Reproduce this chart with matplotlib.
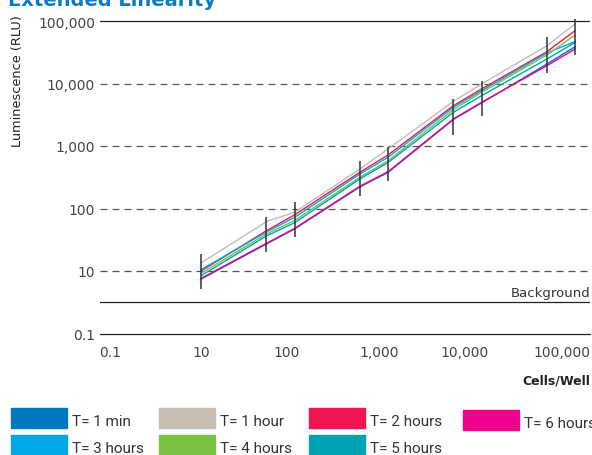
import matplotlib
matplotlib.use("Agg")
import matplotlib.pyplot as plt
from matplotlib.patches import Rectangle
import numpy as np

# ---------------- data ----------------
cells = [10, 50, 100, 500, 1000, 5000, 10000, 50000, 100000]

series_names = ["T= 1 min", "T= 1 hour", "T= 2 hours", "T= 6 hours",
                "T= 3 hours", "T= 4 hours", "T= 5 hours"]
series_colors = ["#0077c0", "#c4bbb3", "#ee1651", "#ec008c",
                 "#00a9e6", "#7ac143", "#00a3b4"]

t_1min = [7.4, 27, 47, 221, 377, 2655, 4875, 20510, 38800]
t_1hour = [13.4, 61.5, 87, 428, 895, 5190, 9820, 40270, 89500]
t_2hours = [10, 44, 79, 380, 718, 4415, 8170, 32270, 70000]
t_6hours = [7.6, 27.7, 48, 227, 388, 2704, 5000, 19270, 35650]
t_3hours = [10.5, 42, 72, 356, 659, 4160, 7670, 30760, 47000]
t_4hours = [9.2, 39, 64, 316, 582, 3810, 7230, 28580, 59700]
t_5hours = [8.4, 36.3, 59, 297, 544, 3460, 6380, 24660, 45300]
series_values = [t_1min, t_1hour, t_2hours, t_6hours, t_3hours, t_4hours, t_5hours]

range_low = [5.2, 20.4, 35, 158, 278, 1517, 2985, 14720, 28580]
range_high = [18.7, 74, 127, 575, 975, 5650, 10840, 54830, 107700]

y_ticks = [1, 10, 100, 1000, 10000, 100000]
y_tick_labels = ["0.1", "10", "100", "1,000", "10,000", "100,000"]
x_tick_labels = ["0.1", "10", "100", "1,000", "10,000", "100,000"]
background_level = 10 ** 0.5

# ---------------- figure ----------------
W, H = 592, 456
fig = plt.figure(figsize=(W / 100, H / 100), dpi=100)
ax = fig.add_axes([100 / W, 121.5 / H, 490 / W, 325 / H])
ax.set_xscale("log")
ax.set_yscale("log")
ax.set_xlim(10 ** -0.08, 10 ** 5.16)
ax.set_ylim(1, 10 ** 5.2)
for s in ax.spines.values():
    s.set_visible(False)

# horizontal reference lines
for yv in y_ticks[1:-1]:
    ax.axhline(yv, color="#555555", lw=0.9, ls=(0, (5.6, 4)), zorder=1)
ax.axhline(y_ticks[-1], color="#222222", lw=0.9, zorder=1)
ax.axhline(y_ticks[0], color="#222222", lw=0.9, zorder=1, clip_on=False)
ax.axhline(background_level, color="#222222", lw=0.9, zorder=1)

# series lines
for name, col, vals in zip(series_names, series_colors, series_values):
    ax.plot(cells, vals, color=col, lw=1.0, zorder=3)

# range bars
ax.vlines(cells, range_low, range_high, color="#333333", lw=1.1, zorder=4)

# ticks
ax.set_yticks(y_ticks)
ax.set_yticklabels(y_tick_labels)
xt_pos = [10 ** p for p in [0.027, 1.0, 1.92, 2.91, 3.82, 4.86]]
ax.set_xticks(xt_pos)
ax.set_xticklabels(x_tick_labels)
ax.minorticks_off()
ax.tick_params(axis="both", length=0, labelsize=10, labelcolor="#444444")
ax.tick_params(axis="y", pad=3.6)
ax.tick_params(axis="x", pad=8)

ax.text(1.0, background_level * 1.12, "Background", transform=ax.get_yaxis_transform(),
        ha="right", va="bottom", fontsize=9.5, color="#333333")

fig.text(590 / W, 1 - 381 / H, "Cells/Well", ha="right", va="center",
         fontsize=9, fontweight="bold", color="#222222")
fig.text(17.5 / W, 1 - 81 / H, "Luminescence (RLU)", rotation=90,
         ha="center", va="center", fontsize=9.3, color="#222222")
fig.text(8 / W, 1 - 6 / H, "Extended Linearity", ha="left", va="baseline",
         fontsize=14, fontweight="bold", color="#0a7bc4")

# legend (manual)
col_rect_x = [11, 159, 309, 463, 11, 159, 309]
col_rect_y = [409, 409, 409, 411, 436, 436, 436]
for name, col, rx, ry in zip(series_names, series_colors, col_rect_x, col_rect_y):
    fig.patches.append(Rectangle((rx / W, 1 - (ry + 20) / H), 56 / W, 20 / H,
                                 transform=fig.transFigure, color=col))
    fig.text((rx + 61) / W, 1 - (ry + 13) / H, name, ha="left", va="center",
             fontsize=11, color="#333333", family=["Roboto", "DejaVu Sans"])

fig.savefig("out.png", dpi=100)
